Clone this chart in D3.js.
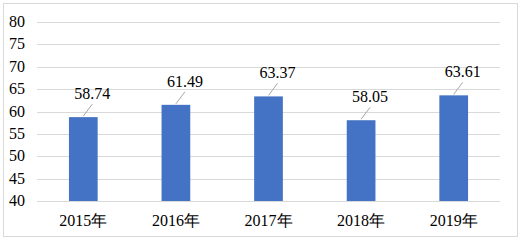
<!DOCTYPE html>
<html>
<head>
<meta charset="utf-8">
<script src="https://cdn.jsdelivr.net/npm/d3@7"></script>
</head>
<body style="margin:0">
<div id="chart"></div>
<script>
// yearly values
const years = ["2015年", "2016年", "2017年", "2018年", "2019年"];
const values = [58.74, 61.49, 63.37, 58.05, 63.61];
const yTicks = [40, 45, 50, 55, 60, 65, 70, 75, 80];

const width = 521,
      height = 240,
      margin = ({top: 22, right: 21, bottom: 39, left: 37});

const labelFont = "Liberation Serif";

let svg = d3.select("#chart")
    .append("svg")
    .attr("width", width)
    .attr("height", height)
    .attr("font-family", labelFont)
    .attr("font-size", 16);

// outer frame
svg.append("rect")
    .attr("x", 3.5).attr("y", 3.5)
    .attr("width", width - 7).attr("height", height - 7)
    .attr("fill", "#fff")
    .attr("stroke", "#d9d9d9");

let x = d3.scaleBand()
    .domain(years)
    .range([margin.left, width - margin.right])
    .paddingInner(0.69)
    .paddingOuter(0.345);

let y = d3.scaleLinear()
    .domain([40, 80])
    .range([height - margin.bottom, margin.top]);

// gridlines
svg.append("g")
    .selectAll("line")
    .data(yTicks)
    .join("line")
    .attr("x1", margin.left)
    .attr("x2", width - margin.right)
    .attr("y1", d => Math.round(y(d)) + 0.5)
    .attr("y2", d => Math.round(y(d)) + 0.5)
    .attr("stroke", "#d9d9d9");

// y labels
svg.append("g")
    .selectAll("text")
    .data(yTicks)
    .join("text")
    .attr("x", margin.left - 12)
    .attr("y", d => y(d))
    .attr("dy", "0.32em")
    .attr("text-anchor", "end")
    .attr("font-family", labelFont)
    .attr("font-size", 16)
    .attr("fill", "#000")
    .text(d => d);

// x labels
svg.append("g")
    .selectAll("text")
    .data(years)
    .join("text")
    .attr("x", d => x(d) + x.bandwidth() / 2)
    .attr("y", y(40) + 25)
    .attr("text-anchor", "middle")
    .attr("font-family", labelFont)
    .attr("font-size", 16)
    .attr("fill", "#000")
    .text(d => d);

let bar = svg.selectAll(".bar")
    .data(years.map((d, i) => ({year: d, value: values[i]})))
    .join("g")
    .attr("class", "bar");

bar.append("rect")
    .attr("fill", "#4472c4")
    .attr("x", d => x(d.year))
    .attr("width", x.bandwidth())
    .attr("y", d => y(d.value))
    .attr("height", d => y(40) - y(d.value));

// leader lines
bar.append("line")
    .attr("x1", d => x(d.year) + x.bandwidth() / 2)
    .attr("y1", d => y(d.value) - 1)
    .attr("x2", d => x(d.year) + x.bandwidth() / 2 + 9)
    .attr("y2", d => y(d.value) - 13)
    .attr("stroke", "#a6a6a6")
    .attr("stroke-width", 1);

bar.append("text")
    .attr("x", d => x(d.year) + x.bandwidth() / 2 + 9)
    .attr("y", d => y(d.value) - 18)
    .attr("text-anchor", "middle")
    .attr("font-family", labelFont)
    .attr("font-size", 16)
    .attr("fill", "#000")
    .text(d => d.value.toFixed(2));
</script>
</body>
</html>
